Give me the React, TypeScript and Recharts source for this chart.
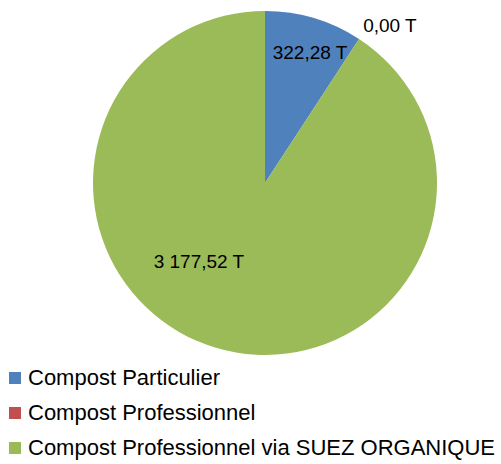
import React from 'react';
import { PieChart, Pie, Cell, Legend } from 'recharts';

// tonnages par filière
const categories = ['Compost Particulier', 'Compost Professionnel', 'Compost Professionnel via SUEZ ORGANIQUE'];
const tonnages = [322.28, 0, 3177.52];
const COLORS = ['#4F81BD', '#C0504D', '#9BBB59'];

// label placement (radius factor / angle shift from mid angle), Excel "best fit" look
const LABEL_R = [0.805, 1.171, 0.598];
const LABEL_SHIFT = [-2.4, -5.2, -23.4];

const FONT = '"Liberation Sans", Arial, sans-serif';
const RAD = Math.PI / 180;

const data = categories.map((name, i) => ({ name, value: tonnages[i] }));

function formatT(v: number) {
  const [int, dec] = v.toFixed(2).split('.');
  const grouped = int.replace(/\B(?=(\d{3})+(?!\d))/g, ' ');
  return `${grouped},${dec} T`;
}

const renderLabel = (props: any) => {
  const { cx, cy, midAngle, outerRadius, index, value } = props;
  const angle = midAngle + LABEL_SHIFT[index];
  const r = outerRadius * LABEL_R[index];
  const x = cx + r * Math.cos(-angle * RAD);
  const y = cy + r * Math.sin(-angle * RAD);
  return (
    <text
      x={x}
      y={y}
      textAnchor="middle"
      dominantBaseline="central"
      fill="#000"
      fontSize={19}
      fontFamily={FONT}
    >
      {formatT(value)}
    </text>
  );
};

const renderLegend = () => (
  <div style={{ fontFamily: FONT, fontSize: 22, color: '#000' }}>
    {categories.map((c, i) => (
      <div key={c} style={{ display: 'flex', alignItems: 'center', height: 35 }}>
        <span
          style={{ width: 12, height: 12, background: COLORS[i], marginLeft: 9, marginRight: 7, flex: 'none' }}
        />
        <span style={{ whiteSpace: 'nowrap' }}>{c}</span>
      </div>
    ))}
  </div>
);

export default function App() {
  return (
    <div style={{ position: 'absolute', left: 0, top: 0, width: 501, height: 464, background: '#fff' }}>
      <PieChart width={501} height={464} margin={{ top: 0, right: 0, bottom: 0, left: 0 }}>
        <Pie
          data={data}
          dataKey="value"
          nameKey="name"
          cx={265}
          cy={183}
          outerRadius={172}
          startAngle={90}
          endAngle={-270}
          stroke="none"
          label={renderLabel}
          labelLine={false}
          isAnimationActive={false}
        >
          {data.map((d, i) => (
            <Cell key={d.name} fill={COLORS[i]} />
          ))}
        </Pie>
        <Legend
          content={renderLegend}
          wrapperStyle={{ left: 0, top: 360, bottom: 'auto', width: 501 }}
        />
      </PieChart>
    </div>
  );
}
